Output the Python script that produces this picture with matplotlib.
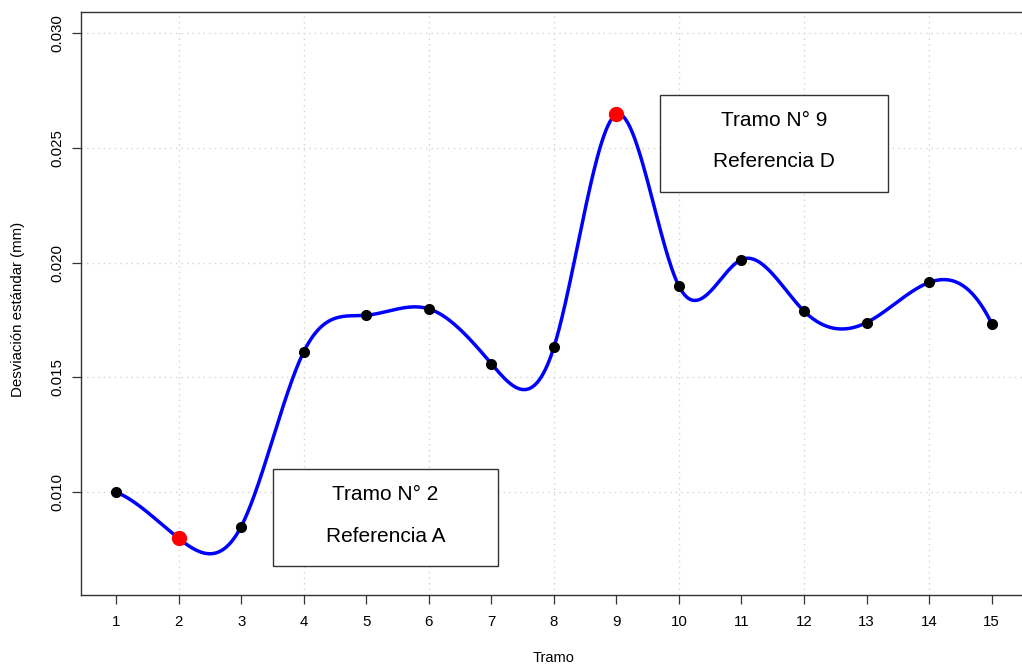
import numpy as np
import matplotlib
matplotlib.use("Agg")
import matplotlib.pyplot as plt
from matplotlib.patches import Rectangle

plt.rcParams['font.family'] = ['Liberation Sans', 'DejaVu Sans']

# Standard deviation per section (mm)
tramos = np.arange(1, 16)
desviacion = [0.0100, 0.00798, 0.00849, 0.01611, 0.01771, 0.01799, 0.01560,
              0.01631, 0.02647, 0.01898, 0.02014, 0.01789, 0.01739, 0.01914,
              0.01735]
destacados = [2, 9]
x_ticks = list(range(1, 16))
y_ticks = [0.010, 0.015, 0.020, 0.025, 0.030]
y_labels = ["0.010", "0.015", "0.020", "0.025", "0.030"]
notas = [
    # (x0, x1, y_bottom, y_top, line1, line2)
    (3.51, 7.107, 0.00677, 0.0110, "Tramo N° 2", "Referencia A"),
    (9.697, 13.342, 0.02309, 0.02732, "Tramo N° 9", "Referencia D"),
]


def fmm_spline(x, y):
    """Cubic interpolating spline with Forsythe-Malcolm-Moler end conditions."""
    x = np.asarray(x, float)
    y = np.asarray(y, float)
    n = len(x)
    b = np.zeros(n); c = np.zeros(n); d = np.zeros(n)
    nm1 = n - 1
    d[0] = x[1] - x[0]
    c[1] = (y[1] - y[0]) / d[0]
    for i in range(1, nm1):
        d[i] = x[i + 1] - x[i]
        b[i] = 2.0 * (d[i - 1] + d[i])
        c[i + 1] = (y[i + 1] - y[i]) / d[i]
        c[i] = c[i + 1] - c[i]
    b[0] = -d[0]
    b[nm1] = -d[n - 2]
    c[0] = c[nm1] = 0.0
    if n > 3:
        c[0] = c[2] / (x[3] - x[1]) - c[1] / (x[2] - x[0])
        c[nm1] = c[n - 2] / (x[nm1] - x[n - 3]) - c[n - 3] / (x[n - 2] - x[n - 4])
        c[0] = c[0] * d[0] * d[0] / (x[3] - x[0])
        c[nm1] = -c[nm1] * d[n - 2] * d[n - 2] / (x[nm1] - x[n - 4])
    for i in range(1, n):
        t = d[i - 1] / b[i - 1]
        b[i] = b[i] - t * d[i - 1]
        c[i] = c[i] - t * c[i - 1]
    c[nm1] = c[nm1] / b[nm1]
    for i in range(n - 2, -1, -1):
        c[i] = (c[i] - d[i] * c[i + 1]) / b[i]
    b[nm1] = (y[nm1] - y[n - 2]) / d[n - 2] + d[n - 2] * (c[n - 2] + 2.0 * c[nm1])
    for i in range(nm1):
        b[i] = (y[i + 1] - y[i]) / d[i] - d[i] * (c[i + 1] + 2.0 * c[i])
        d[i] = (c[i + 1] - c[i]) / d[i]
        c[i] = 3.0 * c[i]
    c[nm1] = 3.0 * c[nm1]
    d[nm1] = d[n - 2]

    def evaluate(u):
        u = np.asarray(u, float)
        idx = np.clip(np.searchsorted(x, u, side='right') - 1, 0, n - 1)
        dx = u - x[idx]
        return y[idx] + dx * (b[idx] + dx * (c[idx] + dx * d[idx]))
    return evaluate


W, H = 1022, 666
fig = plt.figure(figsize=(W / 100, H / 100), dpi=100)
left, right, top, bottom = 81, 1026.7, 11.7, 594.5
ax = fig.add_axes([left / W, 1 - bottom / H, (right - left) / W, (bottom - top) / H])

ax.set_xlim(0.44, 15.56)
ax.set_ylim(0.00553, 0.03095)

# dotted reference grid
for gx in range(2, 15, 2):
    ax.axvline(gx, color='lightgray', linestyle=(0, (1, 3)), lw=1, zorder=0)
for gy in y_ticks:
    ax.axhline(gy, color='lightgray', linestyle=(0, (1, 3)), lw=1, zorder=0)

curve = fmm_spline(tramos, desviacion)
xs = np.linspace(1, 15, 800)
ax.plot(xs, curve(xs), color='blue', lw=2.5, zorder=2, solid_capstyle='round')
ax.plot(tramos, desviacion, 'o', color='black', markersize=7, zorder=3)
sel = [t - 1 for t in destacados]
ax.plot(tramos[sel], np.asarray(desviacion)[sel], 'o', color='red',
        markersize=10, zorder=4)

for x0, x1, y0, y1, l1, l2 in notas:
    ax.add_patch(Rectangle((x0, y0), x1 - x0, y1 - y0, facecolor='white',
                           edgecolor='#333333', lw=1, zorder=5))
    xc = (x0 + x1) / 2
    hgt = y1 - y0
    ax.text(xc, y1 - 0.26 * hgt, l1, ha='center', va='center', fontsize=15, zorder=6)
    ax.text(xc, y1 - 0.69 * hgt, l2, ha='center', va='center', fontsize=15, zorder=6)

ax.set_xticks(x_ticks)
ax.set_xticklabels([str(t) for t in x_ticks])
ax.set_yticks(y_ticks)
ax.set_yticklabels(y_labels, rotation=90, va='center')
ax.tick_params(axis='both', direction='out', length=6.3, width=0.9,
               color='#333333', labelsize=10.8)
ax.tick_params(axis='x', pad=8.5)
ax.tick_params(axis='y', pad=5.5)
for s in ax.spines.values():
    s.set_color('#333333')
    s.set_linewidth(1)

fig.text((left + right) / 2 / W, 1 - 658 / H, "Tramo", ha='center', va='center', fontsize=10.5)
fig.text(18 / W, 1 - 309 / H, "Desviación estándar (mm)", ha='center', va='center',
         rotation=90, fontsize=10.8)

fig.savefig("out.png", dpi=100)
